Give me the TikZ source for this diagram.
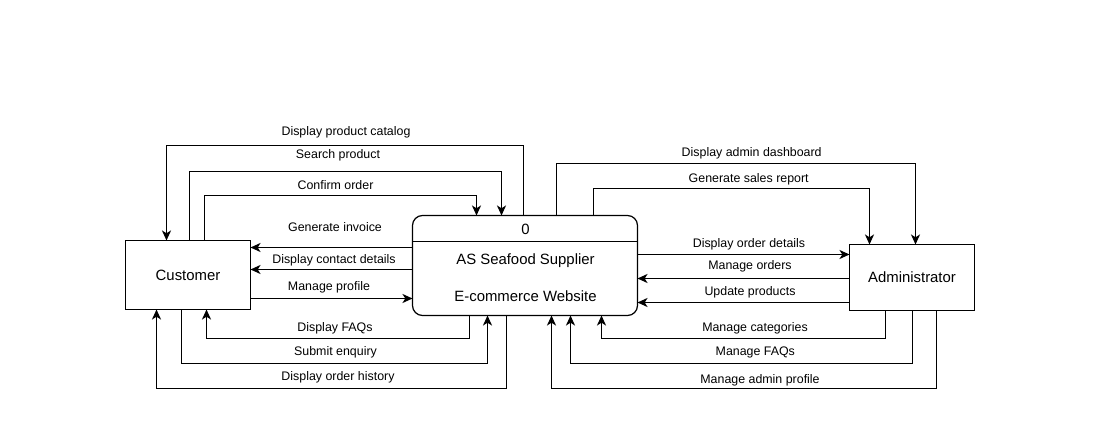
\documentclass[tikz,border=0pt]{standalone}
\usepackage{fontspec}
\setmainfont{Liberation Sans}
\usetikzlibrary{arrows.meta}
\begin{document}
\begin{tikzpicture}[x=1pt,y=-1pt,
  line width=1.7pt,
  arr/.style={-{Stealth[length=10pt,width=9pt,inset=2.8pt]}},
  boxtxt/.style={font=\fontsize{14.9}{17}\selectfont},
  lbl/.style={font=\fontsize{12.4}{14}\selectfont, inner sep=0pt},
  ent/.style={draw, rectangle, minimum width=125pt, inner sep=0pt, outer sep=0pt, boxtxt}]
\useasboundingbox (0,0) rectangle (1116,435);
% entities
\node[ent, minimum height=69pt] (C) at (188,275) {Customer};
\node[ent, minimum height=66pt] (A) at (912,277.5) {Administrator};
\node[draw, line width=1.2pt, rounded corners=10pt, minimum width=225pt, minimum height=100pt, inner sep=0pt, outer sep=0pt] (P) at (525,265.5) {};
\draw (P.north west |- 0,241.5) -- (P.north east |- 0,241.5);
\node[boxtxt] (p0) at (525.5,229) {0};
\node[boxtxt] (p1) at (525.5,260.5) {AS Seafood Supplier};
\node[boxtxt] (p2) at (525.5,296) {E-commerce Website};
% left flows (top)
\draw[arr] (P.north -| 523.5,0) |- (166.5,145.5) -- (C.north -| 166.5,0);
\node[lbl] (l1) at (346,132.5) {Display product catalog};
\draw[arr] (C.north -| 189.5,0) |- (501.5,171.5) -- (P.north -| 501.5,0);
\node[lbl] (l2) at (338,155.5) {Search product};
\draw[arr] (C.north -| 204.5,0) |- (476.5,195.5) -- (P.north -| 476.5,0);
\node[lbl] (l3) at (335.5,185) {Confirm order};
% left flows (side)
\draw[arr] (P.west |- 0,247.5) -- (C.east |- 0,247.5);
\node[lbl] (l4) at (335,227.3) {Generate invoice};
\draw[arr] (P.west |- 0,269.5) -- (C.east |- 0,269.5);
\node[lbl] (l5) at (334,260.5) {Display contact details};
\draw[arr] (C.east |- 0,298.5) -- (P.west |- 0,298.5);
\node[lbl] (l6) at (329,287.7) {Manage profile};
% left flows (bottom)
\draw[arr] (P.south -| 469.5,0) |- (206.5,338.5) -- (C.south -| 206.5,0);
\node[lbl] (l7) at (335,328.3) {Display FAQs};
\draw[arr] (C.south -| 181.5,0) |- (487.5,363.5) -- (P.south -| 487.5,0);
\node[lbl] (l8) at (335.5,352.7) {Submit enquiry};
\draw[arr] (P.south -| 506.5,0) |- (156.5,388.5) -- (C.south -| 156.5,0);
\node[lbl] (l9) at (338,377.3) {Display order history};
% right flows (top)
\draw[arr] (P.north -| 556.5,0) |- (915.5,163.5) -- (A.north -| 915.5,0);
\node[lbl] (r1) at (751.7,153.3) {Display admin dashboard};
\draw[arr] (P.north -| 593.5,0) |- (869.5,188.5) -- (A.north -| 869.5,0);
\node[lbl] (r2) at (748.7,179.3) {Generate sales report};
% right flows (side)
\draw[arr] (P.east |- 0,254.5) -- (A.west |- 0,254.5);
\node[lbl] (r3) at (749,244) {Display order details};
\draw[arr] (A.west |- 0,278.5) -- (P.east |- 0,278.5);
\node[lbl] (r4) at (750,266.7) {Manage orders};
\draw[arr] (A.west |- 0,302.5) -- (P.east |- 0,302.5);
\node[lbl] (r5) at (750,292.3) {Update products};
% right flows (bottom)
\draw[arr] (A.south -| 885.5,0) |- (601.5,338.5) -- (P.south -| 601.5,0);
\node[lbl] (r6) at (755,328.3) {Manage categories};
\draw[arr] (A.south -| 912.5,0) |- (570.5,363.5) -- (P.south -| 570.5,0);
\node[lbl] (r7) at (755.3,352.7) {Manage FAQs};
\draw[arr] (A.south -| 936.5,0) |- (551.5,388.5) -- (P.south -| 551.5,0);
\node[lbl] (r8) at (760,380) {Manage admin profile};
\end{tikzpicture}
\end{document}
